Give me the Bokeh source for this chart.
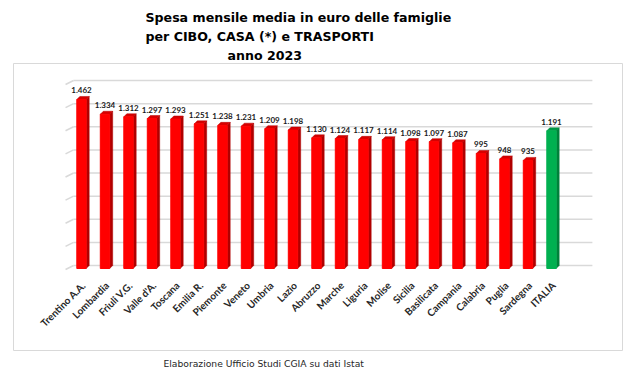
import math
from bokeh.plotting import figure
from bokeh.models import Range1d, ColumnDataSource, Title
from bokeh.core.properties import value
from bokeh.embed import file_html
from bokeh.resources import INLINE

# ---------------- data ----------------
regions = ["Trentino A.A.", "Lombardia", "Friuli V.G.", "Valle d'A.", "Toscana",
           "Emilia R.", "Piemonte", "Veneto", "Umbria", "Lazio", "Abruzzo",
           "Marche", "Liguria", "Molise", "Sicilia", "Basilicata", "Campania",
           "Calabria", "Puglia", "Sardegna", "ITALIA"]
spesa = [1462, 1334, 1312, 1297, 1293, 1251, 1238, 1231, 1209, 1198, 1130,
         1124, 1117, 1114, 1098, 1097, 1087, 995, 948, 935, 1191]
grid_values = [0, 200, 400, 600, 800, 1000, 1200, 1400, 1600]
title_lines = ["Spesa mensile media in euro delle famiglie",
               "per CIBO, CASA (*) e TRASPORTI",
               "anno 2023"]
footer = "Elaborazione Ufficio Studi CGIA su dati Istat"

# ---------------- geometry helpers ----------------
PX_X = 23.5              # pixels per category
UNITS_PER_PX = 1600 / 185.0
bar_w = 0.40
dx = 3.0 / PX_X          # 3D depth, x
dy = 3.0 * UNITS_PER_PX  # 3D depth, y

p = figure(width=625, height=374, output_backend="svg", toolbar_location=None,
           x_range=Range1d((13 - 81) / PX_X, (622 - 81) / PX_X),
           y_range=Range1d((268 - 350) * UNITS_PER_PX, (268 - 63) * UNITS_PER_PX),
           x_axis_type=None, y_axis_type=None,
           min_border_left=13, min_border_right=3, min_border_top=63, min_border_bottom=24)
p.xgrid.visible = False
p.ygrid.visible = False
p.outline_line_color = "#d9d9d9"
p.outline_line_width = 1
p.background_fill_color = "white"
p.border_fill_color = "white"

n = len(regions)
xs = list(range(n))

# gridlines on the back wall (shifted by the 3D depth), with perspective stub on the left
g_left = -0.34
g_right = 21.74
stub = 0.34
gy = [v + dy for v in grid_values]
p.segment(x0=[g_left] * len(gy), y0=gy, x1=[g_right] * len(gy), y1=gy,
          line_color="#d9d9d9", line_width=1.5)
p.segment(x0=[g_left - stub] * len(gy), y0=[v - 4 * UNITS_PER_PX for v in gy],
          x1=[g_left] * len(gy), y1=gy,
          line_color="#d9d9d9", line_width=1.5)

front = ["#ff0000"] * (n - 1) + ["#00b050"]
side = ["#b00000"] * (n - 1) + ["#00813a"]
top = ["#d80000"] * (n - 1) + ["#009a45"]

side_xs, side_ys, top_xs, top_ys = [], [], [], []
for i, v in zip(xs, spesa):
    r = i + bar_w / 2
    l = i - bar_w / 2
    side_xs.append([r, r + dx, r + dx, r])
    side_ys.append([0, dy, v + dy, v])
    top_xs.append([l, l + dx, r + dx, r])
    top_ys.append([v, v + dy, v + dy, v])

p.patches(side_xs, side_ys, fill_color=side, line_color=side, line_width=0.5)
p.patches(top_xs, top_ys, fill_color=top, line_color=side, line_width=0.5)
p.vbar(x=xs, top=spesa, bottom=0, width=bar_w, fill_color=front, line_color=front)

# value labels
lab = [f"{v:,}".replace(",", ".") for v in spesa]
src = ColumnDataSource(dict(x=xs, y=[v + dy + 3 * UNITS_PER_PX for v in spesa], t=lab))
p.text(x="x", y="y", text="t", source=src, text_align="center", text_baseline="bottom",
       text_font=value("Lato"), text_font_style="bold", text_font_size="8px",
       text_color="#1a1a1a")

# category labels (rotated)
csrc = ColumnDataSource(dict(x=[i + 2 / PX_X for i in xs],
                             y=[-15 * UNITS_PER_PX] * n, t=regions))
p.text(x="x", y="y", text="t", source=csrc, angle=math.pi / 4,
       text_align="right", text_baseline="middle",
       text_font=value("Lato"), text_font_style="bold", text_font_size="10px",
       text_color="#262626")

# title (three lines stacked above; last added is outermost)
offs = [145 - 13, 145 - 13, 227 - 13]
for s, o in reversed(list(zip(title_lines, offs))):
    p.add_layout(Title(text=s, align="left", offset=o, text_font="DejaVu Sans",
                       text_font_style="bold", text_font_size="12.6px",
                       text_color="#000000", standoff=2), "above")

p.add_layout(Title(text=footer, align="left", offset=163 - 13, text_font="DejaVu Sans",
                   text_font_style="normal", text_font_size="9.2px",
                   text_color="#262626", standoff=10), "below")

open("out.html", "w").write(file_html(p, INLINE))
